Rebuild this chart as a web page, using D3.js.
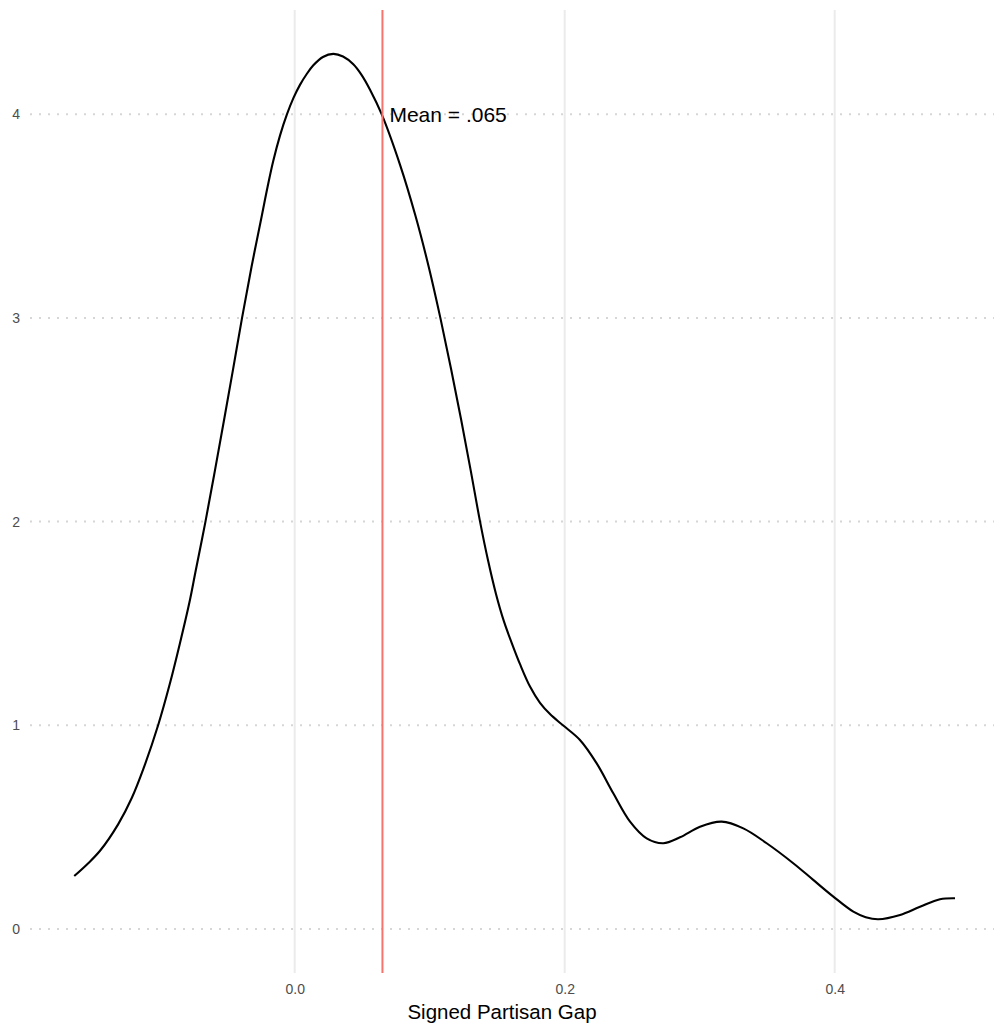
<!DOCTYPE html>
<html>
<head>
<meta charset="utf-8">
<script src="https://cdn.jsdelivr.net/npm/d3@7/dist/d3.min.js"></script>
<style>
  html, body { margin: 0; padding: 0; background: #fff; }
  svg { display: block; }
</style>
</head>
<body>
<svg id="chart" width="994" height="1026"></svg>
<script>
// Density estimate of the signed partisan gap
const gapX = [-0.1633, -0.1537, -0.1442, -0.1307, -0.1207, -0.1121, -0.1010, -0.0924, -0.0850,
  -0.0776, -0.0736, -0.0661, -0.0591, -0.0523, -0.0456, -0.0390, -0.0320, -0.0244, -0.0205,
  -0.0159, -0.0109, -0.0057, -0.0009, 0.0039, 0.0088, 0.0138, 0.0209, 0.0286, 0.0358,
  0.0434, 0.0495, 0.0558, 0.0644, 0.0781, 0.0895, 0.0993, 0.1079, 0.1158, 0.1233, 0.1304,
  0.1373, 0.1432, 0.1491, 0.1550, 0.1610, 0.1669, 0.1743, 0.1817, 0.1891, 0.1987, 0.2113,
  0.2237, 0.2360, 0.2484, 0.2607, 0.2730, 0.2854, 0.3002, 0.3163, 0.3323, 0.3496, 0.3693,
  0.3841, 0.3990, 0.4138, 0.4230, 0.4323, 0.4484, 0.4632, 0.4780, 0.4891];
const densityY = [0.260, 0.318, 0.384, 0.515, 0.643, 0.786, 1.004, 1.206, 1.403,
  1.615, 1.750, 2.000, 2.250, 2.500, 2.750, 3.000, 3.250, 3.500, 3.630,
  3.770, 3.895, 4.000, 4.080, 4.144, 4.196, 4.240, 4.281, 4.296, 4.283,
  4.245, 4.193, 4.120, 4.000, 3.750, 3.500, 3.250, 3.000, 2.750, 2.500, 2.250,
  2.000, 1.810, 1.645, 1.510, 1.400, 1.300, 1.190, 1.110, 1.055, 1.000, 0.928,
  0.813, 0.666, 0.527, 0.445, 0.421, 0.450, 0.502, 0.527, 0.494, 0.421, 0.323,
  0.241, 0.159, 0.085, 0.058, 0.048, 0.069, 0.109, 0.146, 0.151];
const meanValue = 0.065;
const meanLabel = "Mean = .065";
const xTicks = [0.0, 0.2, 0.4];
const yTicks = [0, 1, 2, 3, 4];
const xTitle = "Signed Partisan Gap";

const svg = d3.select("#chart");
const panel = { left: 30, right: 994, top: 10, bottom: 973 };

const x = d3.scaleLinear().domain([0, 0.4]).range([294.7, 834.7]);
const y = d3.scaleLinear().domain([0, 4]).range([929, 114.2]);

const font = "'Liberation Sans', Arial, Helvetica, sans-serif";

// vertical major gridlines
svg.append("g").selectAll("line").data(xTicks).join("line")
  .attr("x1", d => x(d)).attr("x2", d => x(d))
  .attr("y1", panel.top).attr("y2", panel.bottom)
  .attr("stroke", "#ebebeb").attr("stroke-width", 2);

// horizontal dotted gridlines
svg.append("g").selectAll("line").data(yTicks).join("line")
  .attr("x1", panel.left).attr("x2", panel.right)
  .attr("y1", d => y(d)).attr("y2", d => y(d))
  .attr("stroke", "#d6d6d6").attr("stroke-width", 2)
  .attr("stroke-dasharray", "2,7");

// axes (labels only, minimal style)
const xAxis = d3.axisBottom(x).tickValues(xTicks).tickFormat(d3.format(".1f")).tickSize(0).tickPadding(0);
const gx = svg.append("g").attr("transform", `translate(0,${995 - 11})`).call(xAxis);
gx.select(".domain").remove();
gx.selectAll("text").attr("font-family", font).attr("font-size", 14).attr("fill", "#4d4d4d")
  .attr("dy", "0.71em").attr("y", 0);

const yAxis = d3.axisLeft(y).tickValues(yTicks).tickFormat(d3.format("d")).tickSize(0).tickPadding(0);
const gy = svg.append("g").attr("transform", `translate(20,0)`).call(yAxis);
gy.select(".domain").remove();
gy.selectAll("text").attr("font-family", font).attr("font-size", 14).attr("fill", "#4d4d4d");

// density line
const line = d3.line()
  .x((d, i) => x(gapX[i]))
  .y(d => y(d))
  .curve(d3.curveCatmullRom.alpha(0.5));
svg.append("path")
  .datum(densityY)
  .attr("d", line)
  .attr("fill", "none")
  .attr("stroke", "#000")
  .attr("stroke-width", 2.1)
  .attr("stroke-linejoin", "round");

// mean line
svg.append("line")
  .attr("x1", x(meanValue)).attr("x2", x(meanValue))
  .attr("y1", panel.top).attr("y2", panel.bottom)
  .attr("stroke", "#f8736c").attr("stroke-width", 2);

svg.append("text")
  .attr("x", x(meanValue) + 7).attr("y", y(4))
  .attr("dy", "0.36em")
  .attr("font-family", font).attr("font-size", 21).attr("fill", "#000")
  .text(meanLabel);

// x axis title
svg.append("text")
  .attr("x", 502).attr("y", 1018.5)
  .attr("text-anchor", "middle")
  .attr("font-family", font).attr("font-size", 20.5).attr("fill", "#000")
  .text(xTitle);
</script>
</body>
</html>
